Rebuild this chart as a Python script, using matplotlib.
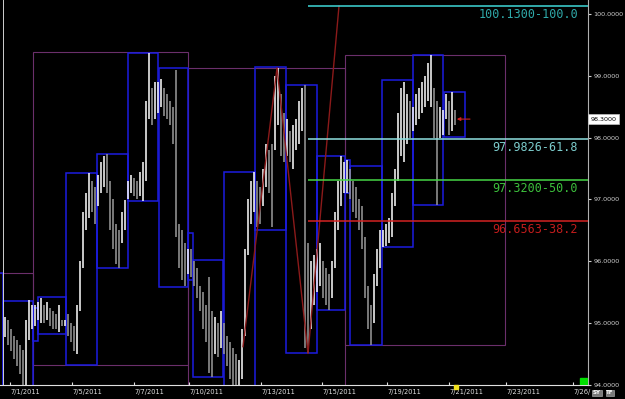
import numpy as np
import matplotlib
matplotlib.use("Agg")
import matplotlib.pyplot as plt
from matplotlib.patches import Rectangle

# --- price bars (one per bar index) ---
highs = [
    95.10, 95.05, 94.90, 94.80, 94.73, 94.65, 94.57, 95.05, 95.38, 95.30,
    95.30, 95.35, 95.40, 95.30, 95.35, 95.25, 95.20, 95.15, 95.30, 95.05,
    95.05, 95.15, 95.00, 94.95, 95.30, 96.00, 96.80, 97.10, 97.43, 97.30,
    97.20, 97.40, 97.60, 97.70, 97.74, 97.30, 97.00, 96.60, 96.50, 96.80,
    96.99, 97.30, 97.40, 97.35, 97.30, 97.45, 97.60, 98.60, 99.37, 98.80,
    98.90, 98.90, 98.95, 98.80, 98.70, 98.60, 98.50, 99.10, 96.60, 96.50,
    96.30, 96.20, 96.20, 96.00, 95.90, 95.60, 95.50, 95.30, 95.75, 95.20,
    95.10, 95.00, 95.20, 95.00, 94.80, 94.70, 94.60, 94.50, 94.40, 94.90,
    96.20, 97.00, 97.30, 97.44, 97.30, 97.20, 97.50, 97.90, 97.80, 97.90,
    99.00, 99.13, 98.70, 98.40, 98.30, 98.10, 98.20, 98.30, 98.60, 98.80,
    98.85, 96.30, 96.00, 96.10, 96.20, 96.30, 96.00, 95.90, 95.80, 96.00,
    96.80, 97.30, 97.70, 97.60, 97.64, 97.50, 97.30, 97.20, 97.00, 96.90,
    96.40, 95.60, 95.30, 95.80, 96.20, 96.50, 96.50, 96.60, 96.70, 97.10,
    97.50, 98.40, 98.80, 98.90, 98.70, 98.60, 98.50, 98.70, 98.80, 98.90,
    99.00, 99.20, 99.34, 98.80, 98.60, 98.50, 98.45, 98.70, 98.60, 98.74,
    98.45,
]
lows = [
    94.78, 94.65, 94.55, 94.42, 94.30, 94.17, 94.00, 94.00, 94.73, 94.90,
    94.95, 95.05, 95.00, 95.00, 95.05, 94.95, 94.90, 94.90, 94.85, 94.95,
    94.95, 94.80, 94.70, 94.55, 94.50, 95.20, 95.90, 96.50, 96.70, 96.80,
    96.60, 96.90, 97.10, 97.20, 97.10, 96.50, 96.20, 95.95, 95.90, 96.30,
    96.50, 97.00, 97.10, 97.05, 97.00, 97.05, 96.98, 97.30, 98.30, 98.20,
    98.30, 98.40, 98.50, 98.35, 98.30, 98.20, 97.90, 96.40, 95.90, 95.70,
    95.60, 95.80, 95.75, 95.60, 95.40, 95.20, 94.90, 94.70, 94.20, 94.13,
    94.50, 94.45, 94.60, 94.50, 94.30, 94.10, 93.95, 93.75, 94.00, 94.10,
    94.80, 96.10, 96.60, 96.80, 96.55, 96.60, 96.90, 97.20, 97.10, 96.55,
    97.80, 98.20, 97.70, 97.60, 97.70, 97.60, 97.50, 97.80, 97.90, 98.10,
    94.60, 94.52, 94.90, 95.30, 95.50, 95.60, 95.40, 95.30, 95.21, 95.40,
    95.90, 96.50, 96.90, 97.10, 97.10, 97.00, 96.80, 96.70, 96.50, 96.20,
    95.40, 94.90, 94.65, 95.00, 95.60, 95.90, 96.23, 96.25, 96.30, 96.40,
    96.90, 97.30, 97.70, 97.60, 97.90, 98.00, 98.10, 98.20, 98.30, 98.40,
    98.50, 98.60, 98.50, 98.00, 96.91, 98.00, 98.05, 98.30, 98.05, 98.10,
    98.20,
]
last_price = 98.30

# --- session boxes: start bar, end bar, low, high ---
blue_x0 = [-2.5, -0.67, 9.33, 11.0, 20.33, 30.67, 41.0, 51.33, 61.0, 62.67, 73.0,
           83.33, 93.67, 104.0, 113.33, 115.0, 125.67, 136.0, 146.33]
blue_x1 = [-0.67, 9.33, 11.0, 20.33, 30.67, 41.0, 51.0, 61.0, 62.67, 72.67, 83.33,
           93.67, 104.0, 113.33, 115.0, 125.67, 136.0, 146.0, 153.33]
blue_lo = [93.9, 93.99, 94.71, 94.82, 94.32, 95.89, 96.98, 95.58, 95.70, 94.13, 93.99,
           96.51, 94.52, 95.21, 97.10, 94.65, 96.23, 96.91, 98.01]
blue_hi = [95.81, 95.36, 95.245, 95.42, 97.43, 97.74, 99.37, 99.13, 96.46, 96.02, 97.44,
           99.14, 98.85, 97.70, 97.64, 97.54, 98.93, 99.34, 98.74]

purple_x0 = [-2.5, 9.33, 61.0, 113.33]
purple_x1 = [9.33, 61.0, 113.33, 166.67]
purple_lo = [93.9, 94.32, 93.9, 94.65]
purple_hi = [95.81, 99.385, 99.13, 99.34]

# --- zigzag and fibonacci levels ---
zig_x = [79.33, 90.67, 101.0, 111.33]
zig_y = [94.62, 99.13, 94.51, 100.13]
fib_start = 101.0
fib_levels = [100.13, 97.9826, 97.32, 96.6563]
fib_labels = ["100.1300-100.0", "97.9826-61.8", "97.3200-50.0", "96.6563-38.2"]
fib_line_colors = ["#3fd8d8", "#8fe0e0", "#46d646", "#d42222"]
fib_text_colors = ["#2fa9a9", "#7ccccc", "#3cbf3c", "#c21c1c"]

date_ticks = [1.67, 22.33, 43.0, 61.33, 85.33, 105.67, 127.33, 148.0, 167.0, 189.33]
date_labels = ["7/1/2011", "7/5/2011", "7/7/2011", "7/10/2011", "7/13/2011",
               "7/15/2011", "7/19/2011", "7/21/2011", "7/23/2011", "7/26/"]
price_ticks = [94, 95, 96, 97, 98, 99, 100]

XMIN, XMAX = -1.67, 194.33

fig = plt.figure(figsize=(6.25, 3.99), dpi=100, facecolor="black")
ax = fig.add_axes([0, 14 / 399, 588 / 625, 385 / 399], facecolor="black")
ax.set_xlim(XMIN, XMAX)
ax.set_ylim(94.0, 100.226)

# boxes
for x0, x1, lo, hi in zip(purple_x0, purple_x1, purple_lo, purple_hi):
    ax.add_patch(Rectangle((x0, lo), x1 - x0, hi - lo, fill=False,
                           edgecolor="#6b2f6b", lw=0.8, zorder=1))
for x0, x1, lo, hi in zip(blue_x0, blue_x1, blue_lo, blue_hi):
    ax.add_patch(Rectangle((x0, lo), x1 - x0, hi - lo, fill=False,
                           edgecolor="#1c1ce0", lw=1.1, zorder=2))

# bars
x = np.arange(len(highs))
h = np.array(highs)
l = np.array(lows)
mid = (h + l) / 2
up = np.concatenate([[True], mid[1:] >= mid[:-1]])
cols = np.where(up, "#ffffff", "#9a9a9a")
ax.vlines(x, l, h, colors=cols, lw=1.1, zorder=4)

ax.axvline(-0.77, color="#d0d0d0", lw=0.7, zorder=3)

# zigzag
ax.plot(zig_x, zig_y, color="#8b1a1a", lw=1.0, zorder=5)

# fib levels
for lev, lab, lc, tc in zip(fib_levels, fib_labels, fib_line_colors, fib_text_colors):
    ax.hlines(lev, fib_start, XMAX, color=lc, lw=1.1, zorder=6)
    ax.text(191.0, lev - 0.03, lab, color=tc, ha="right", va="top",
            family="DejaVu Sans Mono", fontsize=8.5, zorder=6)

# last price arrow
ax.annotate("", xy=(150.6, last_price), xytext=(155.0, last_price),
            arrowprops=dict(arrowstyle="-|>", color="#d02020", lw=0.8,
                            mutation_scale=5, shrinkA=0, shrinkB=0), zorder=7)

# axes styling
for s in ["left", "top"]:
    ax.spines[s].set_visible(False)
ax.spines["right"].set_color("#b0b0b0")
ax.spines["bottom"].set_color("#e0e0e0")
ax.yaxis.tick_right()
ax.set_yticks(price_ticks, [f"{p:.4f}" for p in price_ticks])
ax.tick_params(axis="y", colors="#d0d0d0", labelsize=4.6, length=2, pad=2)
ax.set_xticks(date_ticks, date_labels, ha="left")
ax.tick_params(axis="x", colors="#e0e0e0", labelsize=4.8, length=2,
               direction="in", pad=3.2)

ax.text(1.004, last_price, f"{last_price:.4f}", transform=ax.get_yaxis_transform(),
        fontsize=4.6, color="black", ha="left", va="center",
        bbox=dict(boxstyle="square,pad=0.35", fc="white", ec="#c0c0c0", lw=0.5))

# markers and buttons
ax.plot([150.3], [93.97], marker="s", ms=2.5, color="#f0e020", clip_on=False, zorder=8)
ax.add_patch(Rectangle((191.7, 94.0), 2.3, 0.11, color="#00e000", zorder=8))
for txt, xp in [("SY", 597.0), ("TF", 610.0)]:
    fig.text(xp / 625, 1 - 393 / 399, txt, color="white", fontsize=4.0, weight="bold",
             ha="center", va="center", zorder=11,
             bbox=dict(boxstyle="square,pad=0.12", fc="#7a7a7a", ec="#bbbbbb", lw=0.4))

fig.savefig("out.png", dpi=100, facecolor="black")
